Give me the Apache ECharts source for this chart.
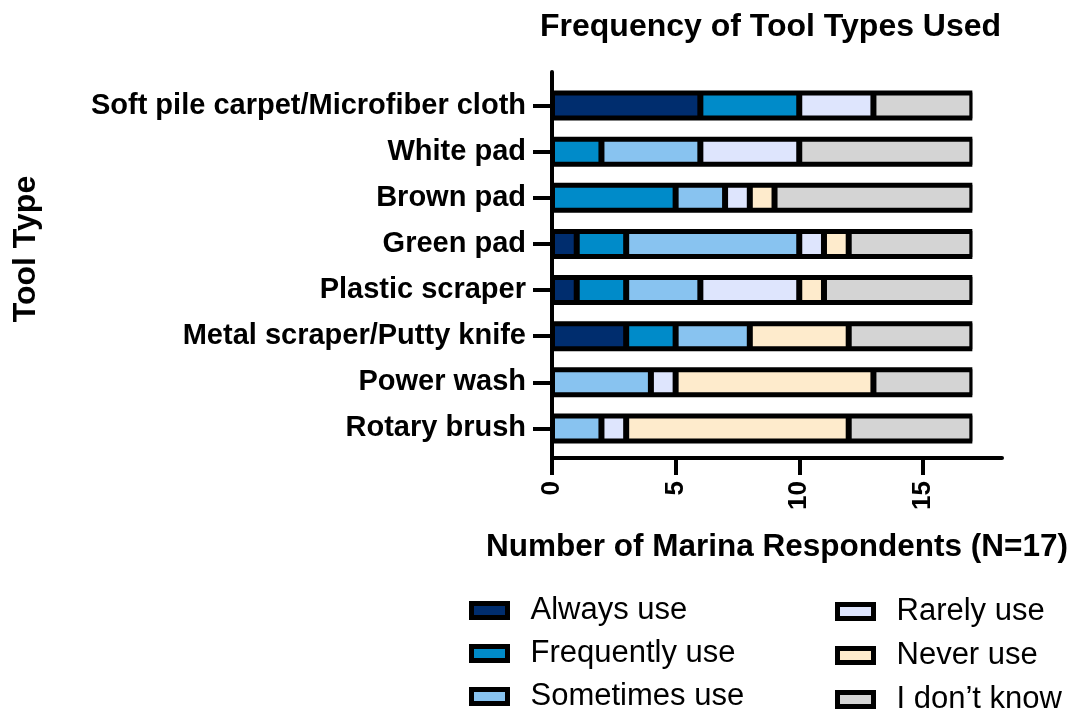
<!DOCTYPE html>
<html>
<head>
<meta charset="utf-8">
<script src="https://cdn.jsdelivr.net/npm/echarts@6/dist/echarts.min.js"></script>
<style>
  html, body { margin: 0; padding: 0; background: #fff; }
  #chart { width: 1072px; height: 713px; }
</style>
</head>
<body>
<div id="chart"></div>
<script>
// tool types, top to bottom
const categories = [
  'Soft pile carpet/Microfiber cloth',
  'White pad',
  'Brown pad',
  'Green pad',
  'Plastic scraper',
  'Metal scraper/Putty knife',
  'Power wash',
  'Rotary brush'
];
// respondents per answer (N=17)
const alwaysUse     = [6, 0, 0, 1, 1, 3, 0, 0];
const frequentlyUse = [4, 2, 5, 2, 2, 2, 0, 0];
const sometimesUse  = [0, 4, 2, 7, 3, 3, 4, 2];
const rarelyUse     = [3, 4, 1, 1, 4, 0, 1, 1];
const neverUse      = [0, 0, 1, 1, 1, 4, 8, 9];
const dontKnow      = [4, 7, 8, 5, 6, 5, 4, 5];
const xTicks = [0, 5, 10, 15];

const FONT = '"Liberation Sans", Arial, sans-serif';

const seriesDefs = [
  { name: 'Always use', data: alwaysUse, color: '#002d6e' },
  { name: 'Frequently use', data: frequentlyUse, color: '#008bc9' },
  { name: 'Sometimes use', data: sometimesUse, color: '#88c3f0' },
  { name: 'Rarely use', data: rarelyUse, color: '#dee5fd' },
  { name: 'Never use', data: neverUse, color: '#feebcc' },
  { name: 'I don\u2019t know', data: dontKnow, color: '#d4d4d4' }
];

// total per row, used for the black outline behind the segments
const totals = categories.map((c, i) => seriesDefs.reduce((s, d) => s + d.data[i], 0));

const legendBase = {
  orient: 'vertical',
  icon: 'rect',
  padding: 0,
  height: 130,
  itemWidth: 36,
  itemHeight: 14,
  itemStyle: { borderColor: '#000', borderWidth: 5 },
  textStyle: { fontFamily: FONT, fontSize: 31, color: '#000', lineHeight: 30, padding: [0, 0, 0, 18] },
  selectedMode: false
};

const barGrid = { left: 552, width: 450, top: 82.5, height: 369 };

const chart = echarts.init(document.getElementById('chart'));
chart.setOption({
  animation: false,
  title: {
    text: 'Frequency of Tool Types Used',
    left: 535,
    top: 6,
    textStyle: { fontFamily: FONT, fontSize: 32, fontWeight: 'bold', color: '#000' }
  },
  legend: [
    Object.assign({}, legendBase, {
      data: seriesDefs.slice(0, 3).map(s => s.name),
      left: 469, top: 595, itemGap: 12
    }),
    Object.assign({}, legendBase, {
      data: seriesDefs.slice(3).map(s => s.name),
      left: 835, top: 596, itemGap: 13
    })
  ],
  grid: [
    barGrid,
    { left: 552, width: 450, top: 72, height: 386 },
    barGrid
  ],
  xAxis: [
    { gridIndex: 0, type: 'value', min: 0, max: 18.2, show: false },
    {
      gridIndex: 1, type: 'value', min: 0, max: 18.2,
      axisLine: { show: true, lineStyle: { color: '#000', width: 4 } },
      axisTick: { show: true, customValues: xTicks, length: 17, lineStyle: { color: '#000', width: 4 } },
      axisLabel: {
        customValues: xTicks, rotate: 90, margin: 23,
        fontFamily: FONT, fontSize: 26, fontWeight: 'bold', color: '#000'
      },
      splitLine: { show: false },
      name: 'Number of Marina Respondents (N=17)',
      nameLocation: 'middle',
      nameGap: 73,
      nameTextStyle: { fontFamily: FONT, fontSize: 31.5, fontWeight: 'bold', color: '#000' }
    },
    { gridIndex: 2, type: 'value', min: 0, max: 18.2, show: false }
  ],
  yAxis: [
    {
      gridIndex: 0, type: 'category', inverse: true, data: categories,
      axisLine: { show: false },
      axisTick: { show: true, alignWithLabel: true, length: 19, lineStyle: { color: '#000', width: 4 } },
      axisLabel: { margin: 26, fontFamily: FONT, fontSize: 29, fontWeight: 'bold', color: '#000' }
    },
    {
      gridIndex: 1, type: 'value',
      axisLine: { show: true, lineStyle: { color: '#000', width: 4 } },
      axisTick: { show: false }, axisLabel: { show: false }, splitLine: { show: false }
    },
    { gridIndex: 2, type: 'category', inverse: true, data: categories, show: false }
  ],
  graphic: [{
    type: 'text',
    x: 26, y: 249,
    rotation: Math.PI / 2,
    style: {
      text: 'Tool Type',
      font: 'bold 32px ' + FONT,
      fill: '#000',
      align: 'center',
      verticalAlign: 'middle'
    }
  }],
  series: [{
    name: 'outline',
    type: 'bar',
    xAxisIndex: 2,
    yAxisIndex: 2,
    barWidth: 30,
    data: totals,
    itemStyle: { color: '#000' },
    silent: true,
    z: 1
  }].concat(seriesDefs.map(s => ({
    name: s.name,
    type: 'bar',
    xAxisIndex: 0,
    yAxisIndex: 0,
    stack: 'tools',
    barWidth: 26,
    data: s.data,
    itemStyle: { color: s.color, borderColor: '#000', borderWidth: 3 },
    emphasis: { disabled: true },
    z: 2
  })))
});
</script>
</body>
</html>
